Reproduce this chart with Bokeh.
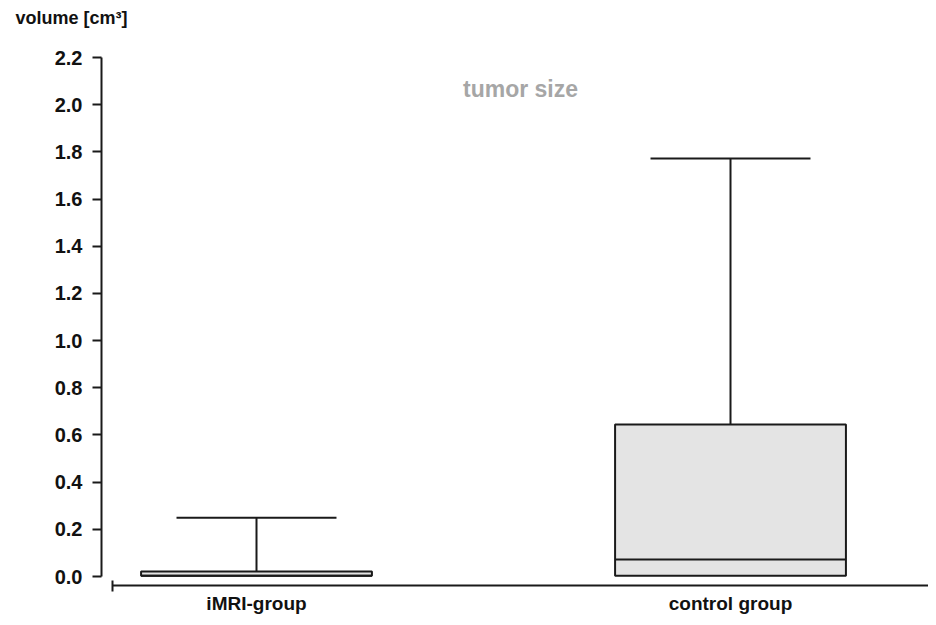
from bokeh.plotting import figure
from bokeh.models import Range1d, LinearAxis, FixedTicker, Label, ColumnDataSource
from bokeh.embed import file_html
from bokeh.resources import INLINE
import numpy as np

# ---- data ----
groups = ["iMRI-group", "control group"]
positions = [1, 2]
q1 = [0.003, 0.003]
median = [0.003, 0.072]
q3 = [0.021, 0.644]
upper_whisker = [0.249, 1.772]
y_ticks = [0.0, 0.2, 0.4, 0.6, 0.8, 1.0, 1.2, 1.4, 1.6, 1.8, 2.0, 2.2]
y_tick_labels = ["0.0", "0.2", "0.4", "0.6", "0.8", "1.0", "1.2", "1.4", "1.6", "1.8", "2.0", "2.2"]

FONT = "Liberation Sans"
BOX_W = 0.487
CAP_W = 0.3375
X0, X1 = 0.673, 2.4177

p = figure(width=928, height=617, output_backend="svg", toolbar_location=None,
           x_range=Range1d(X0, X1), y_range=Range1d(-0.03815, 2.3273),
           x_axis_type=None, y_axis_type=None,
           min_border_left=101, min_border_right=0, min_border_top=27, min_border_bottom=32)
p.outline_line_color = None
p.background_fill_color = "white"

p.title.text = "volume [cm³]"
p.title.align = "left"
p.title.offset = -86
p.title.standoff = 0
p.title.text_font = FONT
p.title.text_font_style = "bold"
p.title.text_font_size = "18px"
p.title.text_color = "#111111"

pos = np.array(positions, dtype=float)
src = ColumnDataSource(dict(
    x=pos, left=pos - BOX_W / 2, right=pos + BOX_W / 2,
    cl=pos - CAP_W / 2, cr=pos + CAP_W / 2,
    q1=q1, q3=q3, med=median, up=upper_whisker))

LC = "#1a1a1a"
p.segment(x0="x", x1="x", y0="q3", y1="up", source=src, line_color=LC, line_width=2)
p.segment(x0="cl", x1="cr", y0="up", y1="up", source=src, line_color=LC, line_width=2)
p.quad(left="left", right="right", bottom="q1", top="q3", source=src,
       fill_color="#e4e4e4", line_color=LC, line_width=2)
p.segment(x0="left", x1="right", y0="med", y1="med", source=src, line_color=LC, line_width=2)

# y axis
yaxis = LinearAxis(ticker=FixedTicker(ticks=y_ticks, minor_ticks=[]), bounds=(0, 2.2),
                   major_label_overrides={t: l for t, l in zip(y_ticks, y_tick_labels)})
yaxis.axis_line_width = 2
yaxis.axis_line_color = LC
yaxis.major_tick_line_width = 2
yaxis.major_tick_line_color = LC
yaxis.major_tick_in = 0
yaxis.major_tick_out = 9
yaxis.major_label_standoff = 10
yaxis.major_label_text_font = FONT
yaxis.major_label_text_font_style = "bold"
yaxis.major_label_text_font_size = "20px"
yaxis.major_label_text_color = "#111111"
p.add_layout(yaxis, "left")

# x axis
xaxis = LinearAxis(ticker=FixedTicker(ticks=positions, minor_ticks=[0.696]), bounds=(0.6955, X1),
                   major_label_overrides={t: g for t, g in zip(positions, groups)})
xaxis.axis_line_width = 2
xaxis.axis_line_color = LC
xaxis.major_tick_line_color = None
xaxis.major_tick_in = 0
xaxis.major_tick_out = 0
xaxis.minor_tick_in = 5
xaxis.minor_tick_out = 6
xaxis.minor_tick_line_width = 2
xaxis.minor_tick_line_color = LC
xaxis.major_label_standoff = 1
xaxis.major_label_text_font = FONT
xaxis.major_label_text_font_style = "bold"
xaxis.major_label_text_font_size = "19px"
xaxis.major_label_text_color = "#111111"
p.add_layout(xaxis, "below")

p.add_layout(Label(x=1.557, y=2.0687, text="tumor size", text_font=FONT, text_font_style="bold",
                   text_font_size="23px", text_color="#a6a6a6", text_align="center",
                   text_baseline="middle"))

open("out.html", "w").write(file_html(p, INLINE))
